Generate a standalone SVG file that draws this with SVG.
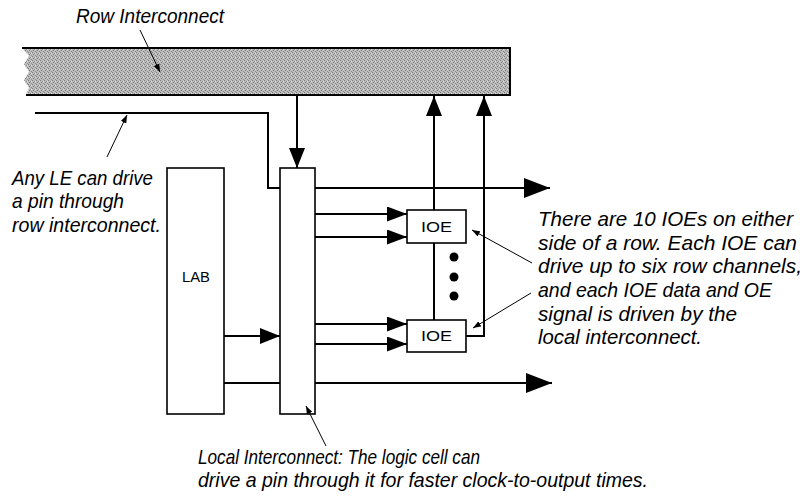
<svg xmlns="http://www.w3.org/2000/svg" width="807" height="501" viewBox="0 0 807 501">
<style>
.box{fill:#fff;stroke:#000;stroke-width:1.6}
.wire{fill:none;stroke:#000;stroke-width:2}
.lead{fill:none;stroke:#000;stroke-width:1}
.note{font-family:"Liberation Sans",Arial,sans-serif;font-style:italic;font-size:21px;fill:#000}
.lbl{font-family:"Liberation Sans",Arial,sans-serif;font-size:14px;fill:#000;text-anchor:middle}
</style>
<defs>
<pattern id="dither" patternUnits="userSpaceOnUse" width="4" height="4">
<rect width="4" height="4" fill="#bdbdbd"/>
<rect x="0" y="0" width="1" height="1" fill="#7a7a7a"/>
<rect x="2" y="1" width="1" height="1" fill="#8a8a8a"/>
<rect x="1" y="2" width="1" height="1" fill="#7a7a7a"/>
<rect x="3" y="3" width="1" height="1" fill="#8a8a8a"/>
<rect x="3" y="1" width="1" height="1" fill="#e0e0e0"/>
</pattern>
<marker id="big" markerUnits="userSpaceOnUse" markerWidth="26" markerHeight="20" refX="26" refY="10" orient="auto"><path d="M0,0 L26,10 L0,20 Z" fill="#000"/></marker>
<marker id="med" markerUnits="userSpaceOnUse" markerWidth="20" markerHeight="16" refX="20" refY="8" orient="auto"><path d="M0,0 L20,8 L0,16 Z" fill="#000"/></marker>
<marker id="sm" markerUnits="userSpaceOnUse" markerWidth="20" markerHeight="15" refX="20" refY="7.5" orient="auto"><path d="M0,0 L20,7.5 L0,15 Z" fill="#000"/></marker>
<marker id="lh" markerUnits="userSpaceOnUse" markerWidth="8" markerHeight="6" refX="8" refY="3" orient="auto"><path d="M0,0 L8,3 L0,6 Z" fill="#000"/></marker>
</defs>
<rect width="807" height="501" fill="#fff"/>

<g id="row-interconnect">
<polygon points="22,48 510,48 510,95 26,95 29,88 24,80 29,72 24,64 29,56" fill="url(#dither)"/>
<path d="M22,48 H510 V95 H26" fill="none" stroke="#000" stroke-width="2"/>
</g>

<g id="lab">
<rect class="box" x="167" y="168" width="57" height="246"/>
<text class="lbl" x="196" y="282" textLength="28" lengthAdjust="spacingAndGlyphs">LAB</text>
</g>

<g id="local-interconnect">
<rect class="box" x="280" y="168" width="35" height="246"/>
</g>

<g id="ioe-top">
<rect class="box" x="407" y="210" width="59" height="33"/>
<text class="lbl" x="436.5" y="232" textLength="31" lengthAdjust="spacingAndGlyphs">IOE</text>
</g>

<g id="ioe-bottom">
<rect class="box" x="407" y="320" width="59" height="32"/>
<text class="lbl" x="436.5" y="341" textLength="31" lengthAdjust="spacingAndGlyphs">IOE</text>
</g>

<g id="ellipsis">
<circle cx="454" cy="257" r="4.5"/>
<circle cx="454" cy="277" r="4.5"/>
<circle cx="454" cy="296" r="4.5"/>
</g>

<g id="connectors">
<polyline class="wire" points="35,113 268,113 268,188 280,188"/>
<line class="wire" x1="297" y1="96" x2="297" y2="168" marker-end="url(#med)"/>
<line class="wire" x1="315" y1="188" x2="550" y2="188" marker-end="url(#big)"/>
<line class="wire" x1="224" y1="336" x2="280" y2="336" marker-end="url(#med)"/>
<line class="wire" x1="224" y1="383" x2="280" y2="383"/>
<line class="wire" x1="315" y1="383" x2="552" y2="383" marker-end="url(#big)"/>
<line class="wire" x1="315" y1="214" x2="407" y2="214" marker-end="url(#sm)"/>
<line class="wire" x1="315" y1="237" x2="407" y2="237" marker-end="url(#sm)"/>
<line class="wire" x1="315" y1="324" x2="407" y2="324" marker-end="url(#sm)"/>
<line class="wire" x1="315" y1="344" x2="407" y2="344" marker-end="url(#sm)"/>
<line class="wire" x1="434" y1="210" x2="434" y2="96" marker-end="url(#med)"/>
<line class="wire" x1="434" y1="243" x2="434" y2="320"/>
<polyline class="wire" points="466,336 484,336 484,96" marker-end="url(#med)"/>
<line class="lead" x1="140" y1="30" x2="160" y2="72" marker-end="url(#lh)"/>
<line class="lead" x1="107" y1="157" x2="127" y2="115" marker-end="url(#lh)"/>
<line class="lead" x1="532" y1="263" x2="472" y2="230" marker-end="url(#lh)"/>
<line class="lead" x1="531" y1="293" x2="473" y2="328" marker-end="url(#lh)"/>
<line class="lead" x1="326" y1="446" x2="306" y2="406" marker-end="url(#lh)"/>
</g>

<g id="labels">
<text class="note" x="76" y="23" textLength="148" lengthAdjust="spacingAndGlyphs">Row Interconnect</text>
<text class="note" x="12" y="185" textLength="141" lengthAdjust="spacingAndGlyphs">Any LE can drive</text>
<text class="note" x="12" y="208" textLength="112" lengthAdjust="spacingAndGlyphs">a pin through</text>
<text class="note" x="12" y="232" textLength="149" lengthAdjust="spacingAndGlyphs">row interconnect.</text>
<text class="note" x="538" y="226" textLength="255" lengthAdjust="spacingAndGlyphs">There are 10 IOEs on either</text>
<text class="note" x="538" y="250" textLength="259" lengthAdjust="spacingAndGlyphs">side of a row. Each IOE can</text>
<text class="note" x="538" y="273" textLength="264" lengthAdjust="spacingAndGlyphs">drive up to six row channels,</text>
<text class="note" x="538" y="297" textLength="234" lengthAdjust="spacingAndGlyphs">and each IOE data and OE</text>
<text class="note" x="538" y="321" textLength="199" lengthAdjust="spacingAndGlyphs">signal is driven by the</text>
<text class="note" x="538" y="344" textLength="164" lengthAdjust="spacingAndGlyphs">local interconnect.</text>
<text class="note" x="198" y="464" textLength="282" lengthAdjust="spacingAndGlyphs">Local Interconnect: The logic cell can</text>
<text class="note" x="198" y="487" textLength="450" lengthAdjust="spacingAndGlyphs">drive a pin through it for faster clock-to-output times.</text>
</g>
</svg>
